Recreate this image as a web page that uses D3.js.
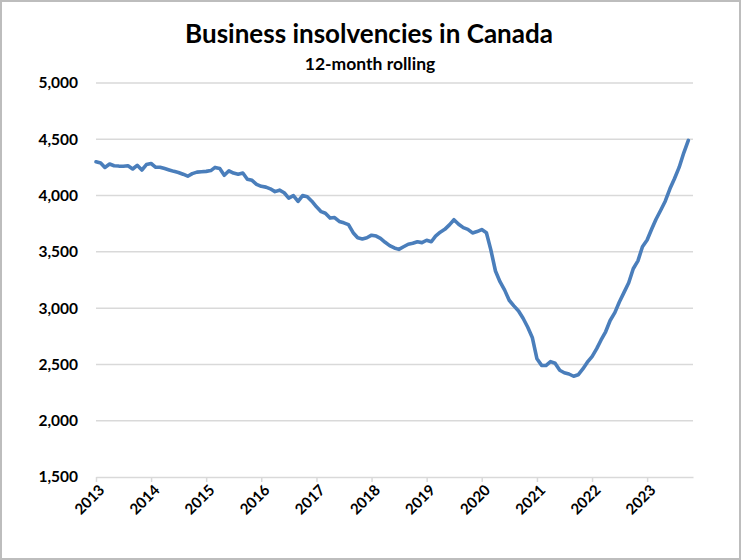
<!DOCTYPE html>
<html>
<head>
<meta charset="utf-8">
<script src="https://cdn.jsdelivr.net/npm/d3@7"></script>
<style>
  html, body { margin: 0; padding: 0; background: #fff; }
  svg { display: block; }
  text { font-family: Lato, "Open Sans", "Liberation Sans", sans-serif; font-weight: 700; fill: #000; }
</style>
</head>
<body>
<svg id="chart" width="741" height="560"></svg>
<script>
// Business insolvencies in Canada, 12-month rolling total, monthly from Jan 2013
const firstMonth = "2013-01";
const insolvencies = [
  // 2013
  4300, 4290, 4250, 4280, 4265, 4262, 4260, 4265, 4236, 4269, 4227, 4275,
  // 2014
  4285, 4251, 4252, 4240, 4228, 4215, 4205, 4190, 4172, 4195, 4208, 4212,
  // 2015
  4215, 4222, 4250, 4240, 4180, 4220, 4200, 4190, 4200, 4145, 4135, 4100,
  // 2016
  4082, 4075, 4060, 4035, 4048, 4025, 3978, 4000, 3948, 4000, 3990, 3950,
  // 2017
  3900, 3857, 3843, 3800, 3805, 3770, 3758, 3742, 3670, 3625, 3615, 3625,
  // 2018
  3648, 3640, 3620, 3585, 3555, 3535, 3522, 3545, 3568, 3576, 3590, 3582,
  // 2019
  3603, 3590, 3640, 3675, 3700, 3740, 3785, 3745, 3715, 3700, 3668, 3680,
  // 2020
  3698, 3670, 3520, 3330, 3235, 3160, 3070, 3020, 2975, 2910, 2830, 2740,
  // 2021
  2550, 2492, 2490, 2525, 2510, 2448, 2426, 2415, 2395, 2408, 2460, 2520,
  // 2022
  2570, 2640, 2715, 2790, 2890, 2960, 3055, 3140, 3225, 3350, 3420, 3545,
  // 2023 (Jan–Oct)
  3605, 3705, 3790, 3870, 3950, 4060, 4150, 4250, 4380, 4490
];
const yearLabels = ["2013", "2014", "2015", "2016", "2017", "2018", "2019", "2020", "2021", "2022", "2023"];
const yTickValues = [1500, 2000, 2500, 3000, 3500, 4000, 4500, 5000];
const titleText = "Business insolvencies in Canada";
const subtitleText = "12-month rolling";

const svg = d3.select("#chart");
const W = 741, H = 560;

// outer chart frame
svg.append("rect")
  .attr("x", 1).attr("y", 1).attr("width", W - 2).attr("height", H - 2)
  .attr("fill", "#fff").attr("stroke", "#bdbdbd").attr("stroke-width", 2);

const plot = { left: 96, right: 693, top: 83, bottom: 477 };

const parseMonth = d3.timeParse("%Y-%m");
const start = parseMonth(firstMonth);
const series = insolvencies.map((v, i) => ({ date: d3.timeMonth.offset(start, i), value: v }));
const end = d3.timeMonth.offset(start, insolvencies.length);

const x = d3.scaleTime().domain([start, end]).range([plot.left, plot.right]);
const y = d3.scaleLinear().domain([1500, 5000]).range([plot.bottom, plot.top]);

// horizontal gridlines
svg.append("g")
  .selectAll("line")
  .data(yTickValues.filter(v => v > 1500))
  .join("line")
  .attr("x1", plot.left).attr("x2", plot.right)
  .attr("y1", d => y(d)).attr("y2", d => y(d))
  .attr("stroke", "#d9d9d9").attr("stroke-width", 1.5);

// y axis labels
const yAxis = svg.append("g")
  .attr("transform", `translate(${plot.left},0)`)
  .call(d3.axisLeft(y).tickValues(yTickValues).tickFormat(d3.format(",")).tickSize(0).tickPadding(18));
yAxis.select(".domain").remove();
yAxis.selectAll("text")
  .attr("font-size", 15.5)
  .style("font-family", "Lato, 'Open Sans', sans-serif")
  .style("font-weight", 700)
  .attr("fill", "#000");

// x axis with yearly ticks
const yearDates = yearLabels.map(s => d3.timeParse("%Y")(s));
const xAxis = svg.append("g")
  .attr("transform", `translate(0,${plot.bottom})`)
  .call(d3.axisBottom(x).tickValues(yearDates).tickFormat((d, i) => yearLabels[i]).tickSize(5).tickSizeOuter(0));
xAxis.select(".domain").attr("stroke", "#d9d9d9").attr("stroke-width", 1.5);
xAxis.selectAll(".tick line").attr("stroke", "#d9d9d9").attr("stroke-width", 1.5);
xAxis.selectAll("text")
  .attr("font-size", 15)
  .style("font-family", "Lato, 'Open Sans', sans-serif")
  .style("font-weight", 700)
  .attr("fill", "#000")
  .attr("text-anchor", "end")
  .attr("y", 0).attr("dy", 0)
  .attr("transform", "translate(9,14) rotate(-45)");

// the series line
const line = d3.line()
  .x(d => x(d.date))
  .y(d => y(d.value))
  .curve(d3.curveLinear);

svg.append("path")
  .datum(series)
  .attr("d", line)
  .attr("fill", "none")
  .attr("stroke", "#4a7ebb")
  .attr("stroke-width", 3.6)
  .attr("stroke-linejoin", "round")
  .attr("stroke-linecap", "round");

// titles
svg.append("text")
  .attr("x", 369).attr("y", 43)
  .attr("text-anchor", "middle")
  .attr("font-size", 26)
  .text(titleText);

svg.append("text")
  .attr("x", 370).attr("y", 70)
  .attr("text-anchor", "middle")
  .attr("font-size", 17.5)
  .text(subtitleText);
</script>
</body>
</html>
